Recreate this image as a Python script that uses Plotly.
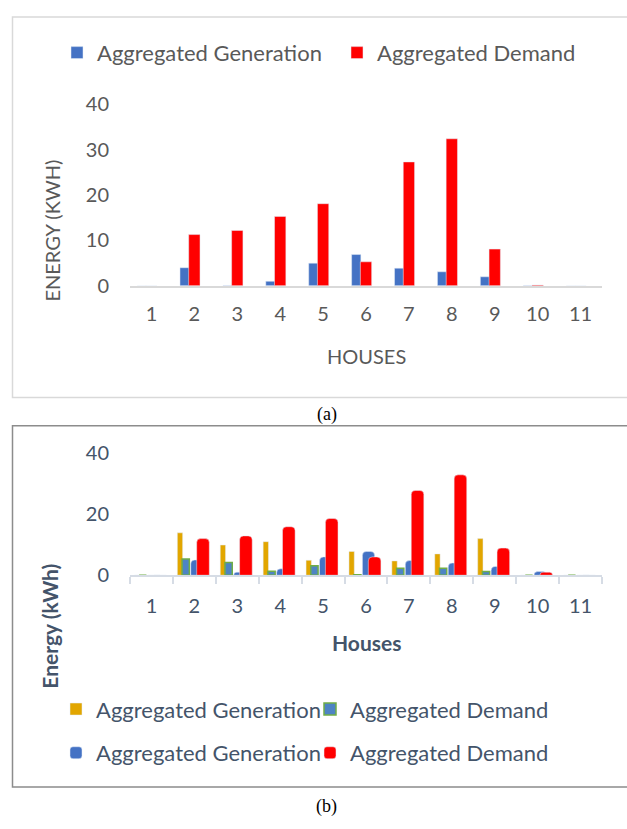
import plotly.graph_objects as go

houses = ["1", "2", "3", "4", "5", "6", "7", "8", "9", "10", "11"]

# Panel (a)
gen_a = [0, 4.0, 0.1, 1.0, 5.0, 6.9, 3.9, 3.1, 2.0, 0.1, 0]
dem_a = [0, 11.3, 12.2, 15.3, 18.1, 5.3, 27.3, 32.4, 8.1, 0.2, 0]

# Panel (b)
gen_b1 = [0, 13.9, 9.9, 11.0, 4.9, 7.8, 4.7, 7.0, 12.0, 0, 0]
dem_b1 = [0, 5.3, 4.2, 1.3, 3.1, 0.2, 2.3, 2.3, 1.2, 0, 0]
gen_b2 = [0, 5.0, 1.0, 2.1, 6.0, 7.8, 4.8, 4.0, 2.9, 1.2, 0]
dem_b2 = [0, 12.0, 12.9, 15.9, 18.6, 6.0, 27.8, 32.9, 8.9, 1.0, 0]

yticks_a = [0, 10, 20, 30, 40]
yticks_b = [0, 20, 40]

W, H = 627, 829
FONT = "Lato, 'Open Sans', sans-serif"
GRAY = "#595959"
SLATE = "#44546a"


def py(y):
    return 1 - y / H


def px(x):
    return x / W


fig = go.Figure()

# ---- panel (a) ----
fig.add_trace(go.Bar(x=houses, y=gen_a, name="Aggregated Generation",
                     marker=dict(color="#4472c4"), offset=-0.335, width=0.215,
                     xaxis="x", yaxis="y", legend="legend"))
fig.add_trace(go.Bar(x=houses, y=dem_a, name="Aggregated Demand",
                     marker=dict(color="#ff0000"), offset=-0.132, width=0.264,
                     xaxis="x", yaxis="y", legend="legend"))

# ---- panel (b) ----
fig.add_trace(go.Bar(x=houses, y=gen_b1, name="Aggregated Generation",
                     marker=dict(color="#e2a600"), offset=-0.397, width=0.124,
                     xaxis="x2", yaxis="y2", legend="legend2"))
fig.add_trace(go.Bar(x=houses, y=dem_b1, name="Aggregated Demand",
                     marker=dict(color="#4e84c4", line=dict(color="#70ad47", width=1.5)),
                     offset=-0.287, width=0.17,
                     xaxis="x2", yaxis="y2", legend="legend2"))
fig.add_trace(go.Bar(x=houses, y=gen_b2, name="Aggregated Generation",
                     marker=dict(color="#4472c4", cornerradius=4), offset=-0.084, width=0.285,
                     xaxis="x2", yaxis="y2", legend="legend3"))
fig.add_trace(go.Bar(x=houses, y=dem_b2, name="Aggregated Demand",
                     marker=dict(color="#ff0000", cornerradius=4), offset=0.054, width=0.294,
                     xaxis="x2", yaxis="y2", legend="legend3"))

xdom = [px(130), px(602)]

fig.update_layout(
    width=W, height=H,
    margin=dict(l=0, r=0, t=0, b=0),
    paper_bgcolor="white", plot_bgcolor="white",
    barmode="overlay",
    font=dict(family=FONT, size=20, color=GRAY),
    xaxis=dict(domain=xdom, anchor="y", type="category", range=[-0.5, 10.5],
               showline=True, linecolor="#d9d9d9", linewidth=2, ticks="",
               showgrid=False, tickfont=dict(size=20, color=GRAY),
               ticklabelstandoff=9),
    yaxis=dict(domain=[py(281), py(94)], anchor="x", range=[0, 40],
               tickvals=yticks_a, showgrid=False, zeroline=False, showline=False,
               tickfont=dict(size=20, color=GRAY), ticklabelstandoff=20),
    xaxis2=dict(domain=xdom, anchor="y2", type="category", range=[-0.5, 10.5],
                showline=True, linecolor="#d6dce5", linewidth=2,
                ticks="outside", tickson="boundaries", ticklen=7,
                tickcolor="#d6dce5", tickwidth=2,
                showgrid=False, tickfont=dict(size=20, color=SLATE),
                ticklabelstandoff=12),
    yaxis2=dict(domain=[py(579), py(453.3)], anchor="x2", range=[0, 40],
                tickvals=yticks_b, showgrid=False, zeroline=False, showline=False,
                tickfont=dict(size=20, color=SLATE), ticklabelstandoff=20),
    legend=dict(orientation="h", x=px(57), y=py(41), xanchor="left", yanchor="middle",
                font=dict(size=22, color=GRAY, family=FONT), entrywidth=235,
                bgcolor="rgba(0,0,0,0)"),
    legend2=dict(orientation="h", x=px(56), y=py(717), xanchor="left", yanchor="middle",
                 font=dict(size=22, color=SLATE, family=FONT), entrywidth=209,
                 bgcolor="rgba(0,0,0,0)"),
    legend3=dict(orientation="h", x=px(56), y=py(762), xanchor="left", yanchor="middle",
                 font=dict(size=22, color=SLATE, family=FONT), entrywidth=209,
                 bgcolor="rgba(0,0,0,0)"),
    showlegend=True,
)

annotations = [
    dict(text="HOUSES", x=px(366), y=py(353), font=dict(size=20, color=GRAY)),
    dict(text="ENERGY (KWH)", x=px(52), y=py(224), textangle=-90,
         font=dict(size=20, color=GRAY)),
    dict(text="<b>Houses</b>", x=px(366), y=py(648), font=dict(size=21, color=SLATE)),
    dict(text="<b>Energy (kWh)</b>", x=px(50), y=py(632), textangle=-90,
         font=dict(size=21, color=SLATE)),
    dict(text="(a)", x=px(327), y=py(413),
         font=dict(size=18, color="black", family="Liberation Serif, serif")),
    dict(text="(b)", x=px(327), y=py(817),
         font=dict(size=18, color="black", family="Liberation Serif, serif")),
]
for a in annotations:
    a.update(xref="paper", yref="paper", showarrow=False, xanchor="center", yanchor="middle")
fig.update_layout(annotations=annotations)

fig.update_layout(shapes=[
    dict(type="rect", xref="paper", yref="paper", x0=px(12.5), x1=px(640),
         y0=py(396), y1=py(4), line=dict(color="#d9d9d9", width=1.5)),
    dict(type="rect", xref="paper", yref="paper", x0=px(12.5), x1=px(640),
         y0=py(797), y1=py(425), line=dict(color="#8c8c8c", width=1.5)),
])

fig.write_html(
    "out.html",
    config={"displayModeBar": False},
    post_script="document.body.style.margin='0';document.body.style.overflow='hidden';",
)
